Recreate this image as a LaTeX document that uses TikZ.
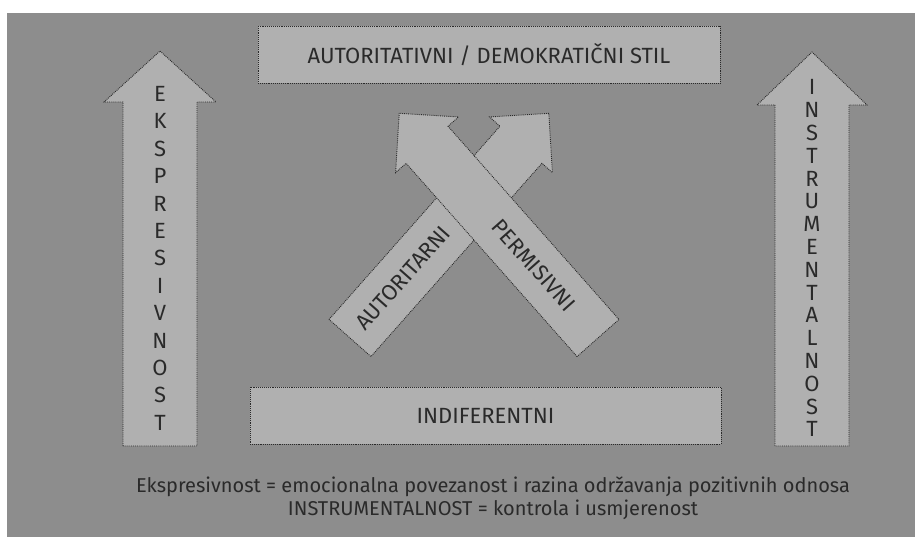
\documentclass[tikz,border=0pt]{standalone}
\usepackage{fontspec}
\setmainfont{Fira Sans}
\usepackage{tikz}
\usepackage{xcolor}
\definecolor{paper}{RGB}{141,141,141}
\definecolor{panel}{RGB}{176,176,176}
\definecolor{ink}{RGB}{42,42,42}

\begin{document}
\begin{tikzpicture}
    [
        x=1pt, y=-1pt,
        panel style/.style={fill=panel, draw=ink, densely dotted, line width=0.9pt},
        box style/.style={panel style, minimum width=#1, minimum height=57pt, inner sep=0pt},
        label style/.style={text=ink, font=\fontsize{22}{22}\selectfont, inner sep=1pt},
        letter style/.style={text=ink, font=\fontsize{22}{22}\selectfont, inner sep=0pt, text height=0.69em, text depth=0pt},
        note style/.style={text=ink, font=\fontsize{20}{20}\selectfont, inner sep=0pt}
    ]
    \useasboundingbox (0,0) rectangle (915,537);
    \fill[white] (0,0) rectangle (915,537);
    \fill[paper] (7,13) rectangle (915,537);

    \node[box style=462pt, label style] (stil) at (489,55) {AUTORITATIVNI / DEMOKRATIČNI STIL};
    \node[box style=471pt, label style] (indif) at (485.5,415.5) {INDIFERENTNI};

    % ekspresivnost / instrumentalnost
    \draw[panel style] (123,446) -- (123,102) -- (104,102) -- (160,51) -- (216,102) -- (197,102) -- (197,446) -- cycle;
    \foreach \c [count=\i] in {E,K,S,P,R,E,S,I,V,N,O,S,T}
        \node[letter style] (eks-\i) at (160,{98+27.4*(\i-1)}) {\c};
    \draw[panel style] (775,446) -- (775,105) -- (757,105) -- (812,52) -- (867,105) -- (849,105) -- (849,446) -- cycle;
    \foreach \c [count=\i] in {I,N,S,T,R,U,M,E,N,T,A,L,N,O,S,T}
        \node[letter style] (ins-\i) at (812,{91.5+22.8*(\i-1)}) {\c};

    \begin{scope}[shift={(350,338)}, rotate=48.5, transform shape]
        \draw[panel style] (0,-28) -- (258,-28) -- (258,-42) -- (300,0) -- (258,42) -- (258,28) -- (0,28) -- cycle;
        \node[label style] (autor) at (80,0) {AUTORITARNI};
    \end{scope}
    \begin{scope}[shift={(598,338)}, rotate=131.5, transform shape]
        \draw[panel style] (0,-28) -- (258,-28) -- (258,-42) -- (300,0) -- (258,42) -- (258,28) -- (0,28) -- cycle;
        \node[label style, rotate=180] (perm) at (97,0) {PERMISIVNI};
    \end{scope}

    \node[note style] (note-e) at (493,487) {Ekspresivnost = emocionalna povezanost i razina održavanja pozitivnih odnosa};
    \node[note style] (note-i) at (493,510) {INSTRUMENTALNOST = kontrola i usmjerenost};
\end{tikzpicture}
\end{document}
